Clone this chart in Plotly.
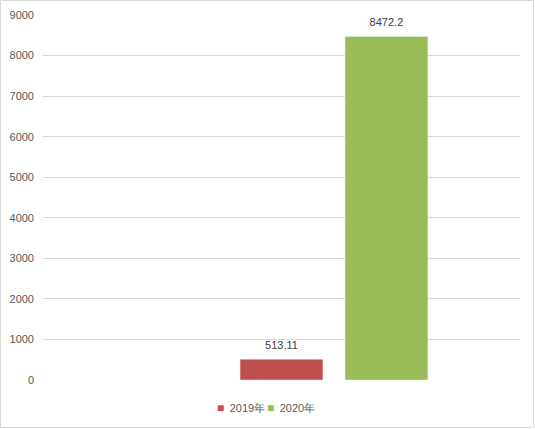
import plotly.graph_objects as go

categories = [""]
series_names = ["", "2019年", "2020年"]
series_values = [[None], [513.11], [8472.2]]
series_colors = ["rgba(0,0,0,0)", "#C0504D", "#9BBB59"]
series_labels = [[""], ["513.11"], ["8472.2"]]
y_ticks = [0, 1000, 2000, 3000, 4000, 5000, 6000, 7000, 8000, 9000]

W, H = 535, 429
L, R, T, B = 43, 15, 15, 49
pw, ph = W - L - R, H - T - B
GAP = 0.34

fig = go.Figure()
for i, (name, vals, col, labs) in enumerate(zip(series_names, series_values, series_colors, series_labels)):
    fig.add_trace(go.Bar(
        x=categories, y=vals, name=name, marker_color=col, offsetgroup=str(i),
        showlegend=False, hoverinfo="skip",
    ))
    fig.add_trace(go.Scatter(
        x=categories, y=vals, mode="markers+text", text=labs, offsetgroup=str(i),
        textposition="top center", cliponaxis=False, hoverinfo="skip",
        textfont=dict(family="Liberation Sans, Arial", size=11, color="#404040"),
        marker=dict(size=10, color="rgba(0,0,0,0)"),
        name=(f"<span style='color:{col};font-size:12px'>■</span>\u2002{name}" if name else " "),
        legendrank=(i if name else 999),
    ))

# outer chart border
fig.add_shape(type="rect", xref="paper", yref="paper",
              x0=(0.5 - L) / pw, x1=(W - 1.5 - L) / pw,
              y0=(T + ph - (H - 1.5)) / ph, y1=(T + ph - 0.5) / ph,
              line=dict(color="#D9D9D9", width=1), layer="below")

fig.update_layout(
    width=W, height=H,
    margin=dict(l=L, r=R, t=T, b=B, autoexpand=False),
    paper_bgcolor="white", plot_bgcolor="white",
    barmode="group", bargap=GAP, bargroupgap=0.21,
    scattermode="group", scattergap=GAP,
    font=dict(family="Liberation Sans, Arial", size=11, color="#595959"),
    xaxis=dict(showticklabels=False, showgrid=False, zeroline=False, showline=False,
               ticks="", automargin=False),
    yaxis=dict(range=[0, 9000], tickvals=y_ticks, showgrid=True, gridcolor="#D9D9D9",
               gridwidth=1, zeroline=False, showline=False, ticks="",
               ticklabelstandoff=8, automargin=False,
               tickfont=dict(size=11, color="#595959")),
    legend=dict(orientation="h", x=(177 - L) / pw, xanchor="left", y=-28 / ph, yanchor="middle",
                font=dict(size=11, color="#595959"), itemwidth=30, entrywidth=5,
                bgcolor="rgba(0,0,0,0)", traceorder="normal"),
)

fig.write_html("out.html", config={"displayModeBar": False},
               post_script="document.body.style.margin='0';document.body.style.padding='0';")
